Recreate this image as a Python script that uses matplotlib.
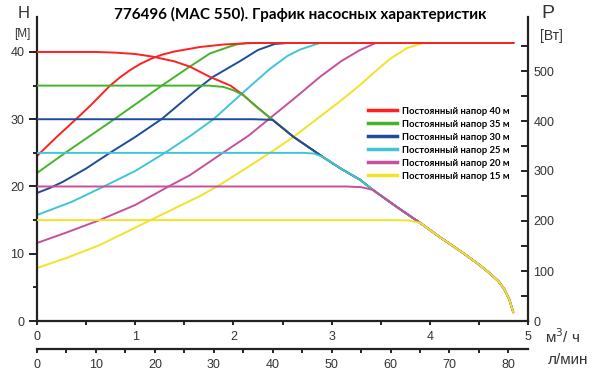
import matplotlib
matplotlib.use("Agg")

import matplotlib.pyplot as plt

# flow in m3/h, head in m, power in W
labels = ["Постоянный напор 40 м", "Постоянный напор 35 м", "Постоянный напор 30 м",
          "Постоянный напор 25 м", "Постоянный напор 20 м", "Постоянный напор 15 м"]
colors = ["#ff2020", "#44b52a", "#1f4b9a", "#3fc6d6", "#c6509c", "#f2e228"]

# common falling part of the head curves
q_fall = [2.1, 2.24, 2.4, 2.61, 2.75, 2.91, 3.1, 3.29, 3.42, 3.65, 3.9, 4.1, 4.34, 4.5, 4.61, 4.7, 4.76, 4.81, 4.85]
h_fall = [33.6, 31.8, 29.9, 27.4, 26.0, 24.4, 22.6, 21.0, 19.5, 17.1, 14.6, 12.5, 10.1, 8.4, 7.1, 5.9, 4.7, 3.2, 1.3]

# flat (constant head) part of each head curve before it joins the falling part
q_head40 = [0, 0.6, 0.8, 1.0, 1.18, 1.4, 1.56, 1.76, 1.97]
h_head40 = [40, 40, 39.9, 39.7, 39.3, 38.6, 37.8, 36.3, 35.0]
q_head35 = [0, 1.75, 1.9, 2.0]
h_head35 = [35, 35, 34.8, 34.3]
q_head30 = [0, 2.2, 2.32]
h_head30 = [30, 30, 29.95]
q_head25 = [0, 2.72, 2.82]
h_head25 = [25, 25, 24.9]
q_head20 = [0, 3.15, 3.3]
h_head20 = [20, 20, 19.9]
q_head15 = [0, 3.6, 3.78]
h_head15 = [15, 15, 14.95]

# power curves
q_p40 = [0, 0.2, 0.41, 0.55, 0.74, 0.85, 0.95, 1.05, 1.18, 1.28, 1.4, 1.66, 1.9, 2.2, 4.85]
p_40 = [330, 368, 406, 432, 470, 488, 502, 514, 526, 533, 539, 548, 553, 556, 556]
q_p35 = [0, 0.3, 0.79, 1.28, 1.55, 1.66, 1.76, 1.95, 2.05, 2.14, 4.85]
p_35 = [296, 338, 404, 472, 508, 522, 535, 548, 554, 556, 556]
q_p30 = [0, 0.13, 0.26, 0.5, 0.74, 1.0, 1.27, 1.5, 1.66, 1.79, 2.07, 2.25, 2.42, 2.55, 4.85]
p_30 = [256, 266, 278, 305, 336, 368, 404, 442, 468, 488, 520, 542, 554, 556, 556]
q_p25 = [0, 0.35, 0.67, 1.0, 1.3, 1.56, 1.8, 2.07, 2.37, 2.55, 2.68, 2.88, 4.85]
p_25 = [212, 238, 268, 300, 336, 370, 404, 452, 504, 530, 543, 556, 556]
q_p20 = [0, 0.3, 0.64, 1.0, 1.33, 1.56, 1.89, 2.15, 2.4, 2.65, 2.88, 3.1, 3.29, 3.45, 4.85]
p_20 = [156, 177, 202, 232, 268, 292, 336, 370, 410, 450, 488, 520, 542, 556, 556]
q_p15 = [0, 0.3, 0.64, 0.9, 1.18, 1.66, 1.86, 2.1, 2.37, 2.61, 2.85, 3.09, 3.29, 3.45, 3.6, 3.77, 3.93, 4.85]
p_15 = [106, 126, 152, 177, 204, 250, 272, 302, 336, 368, 404, 440, 472, 500, 525, 546, 556, 556]

heads = [(q_head40, h_head40), (q_head35, h_head35), (q_head30, h_head30),
         (q_head25, h_head25), (q_head20, h_head20), (q_head15, h_head15)]
powers = [(q_p40, p_40), (q_p35, p_35), (q_p30, p_30),
          (q_p25, p_25), (q_p20, p_20), (q_p15, p_15)]

tick_font = "Liberation Sans"
dark = "#222222"

fig = plt.figure(figsize=(6, 3.79), dpi=100)
ax = fig.add_axes([37/600, 1-321/379, 491/600, 304/379])
ax2 = ax.twinx()

ax.set_zorder(2)
ax.patch.set_visible(False)

n = len(labels)
for i in range(n):
    qh, hh = heads[i]
    q = qh + [x for x in q_fall if x > qh[-1]]
    h = hh + [y for x, y in zip(q_fall, h_fall) if x > qh[-1]]
    # lower heads drawn on top, so the shared falling part shows the last one joined
    ax.plot(q, h, color=colors[i], lw=1.4, zorder=3 + i, solid_capstyle="round")
    qp, pp = powers[i]
    ax2.plot(qp, pp, color=colors[i], lw=1.4, zorder=10 - i)

# legend handles
handles = [plt.Line2D([], [], color=c, lw=2.5) for c in colors]
leg = fig.legend(handles, labels, loc="upper left", bbox_to_anchor=(363/600, 1-102/379),
                 frameon=False, handlelength=3.1, handletextpad=0.5,
                 labelspacing=0.42, borderpad=0,
                 prop={"family": "Lato", "weight": "bold", "size": 6.8})

ax.set_xlim(0, 5)
ax.set_ylim(0, 45.2)
ax2.set_ylim(0, 608)

for s in ["top", "right"]:
    ax.spines[s].set_visible(False)
ax2.spines["top"].set_visible(False)
ax2.spines["left"].set_visible(False)
ax2.spines["bottom"].set_visible(False)
for sp in [ax.spines["left"], ax.spines["bottom"], ax2.spines["right"]]:
    sp.set_linewidth(1.6)
    sp.set_color(dark)

ax.set_xticks([0, 1, 2, 3, 4, 5])
ax.set_xticks([0.5, 1.5, 2.5, 3.5, 4.5], minor=True)
ax.set_yticks([0, 10, 20, 30, 40])
ax.set_yticks([5, 15, 25, 35], minor=True)
ax2.set_yticks([0, 100, 200, 300, 400, 500])
ax2.set_yticks([50, 150, 250, 350, 450, 550], minor=True)

ax.tick_params(axis="y", which="major", direction="out", length=6, width=1.4, color=dark,
               labelsize=9, labelcolor="#333333", pad=3)
ax.tick_params(axis="y", which="minor", direction="out", length=3, width=1.4, color=dark)
ax.tick_params(axis="x", which="both", direction="out", length=3, width=1.4, color=dark,
               labelsize=9, labelcolor="#333333", pad=4)
ax2.tick_params(axis="y", which="both", direction="in", length=5, width=1.4, color=dark,
                labelsize=9, labelcolor="#333333", pad=4)
for lab in ax.get_xticklabels() + ax.get_yticklabels() + ax2.get_yticklabels():
    lab.set_family(tick_font)

# second flow scale in l/min
sec = ax.secondary_xaxis(-28/304, functions=(lambda x: x * 50 / 3, lambda x: x * 3 / 50))
sec.set_xticks([0, 10, 20, 30, 40, 50, 60, 70, 80])
sec.set_xticks([5, 15, 25, 35, 45, 55, 65, 75], minor=True)
sec.spines["bottom"].set_linewidth(1.6)
sec.spines["bottom"].set_color(dark)
sec.tick_params(axis="x", which="both", direction="out", length=3, width=1.4, color=dark,
                labelsize=9, labelcolor="#333333", pad=4)
for lab in sec.get_xticklabels():
    lab.set_family(tick_font)

# axis titles
fig.text(0.5, 1-14/379, "776496 (MAC 550). График насосных характеристик", ha="center",
         va="center", fontsize=11, weight="bold", family="Lato")
fig.text(24/600, 1-13/379, "H", ha="center", va="center", fontsize=12, family=tick_font, color="#333333")
fig.text(22/600, 1-34/379, "[M]", ha="center", va="center", fontsize=8.5, family=tick_font, color="#333333")
fig.text(548/600, 1-14/379, "P", ha="center", va="center", fontsize=14, family=tick_font, color="#333333")
fig.text(551/600, 1-36/379, "[Вт]", ha="center", va="center", fontsize=10, family=tick_font, color="#333333")
fig.text(563/600, 1-337/379, "м$^3$/ ч", ha="center", va="center", fontsize=11, family=tick_font, color="#333333")
fig.text(568/600, 1-360/379, "л/мин", ha="center", va="center", fontsize=11, family=tick_font, color="#333333")

fig.savefig("out.png", dpi=100)
